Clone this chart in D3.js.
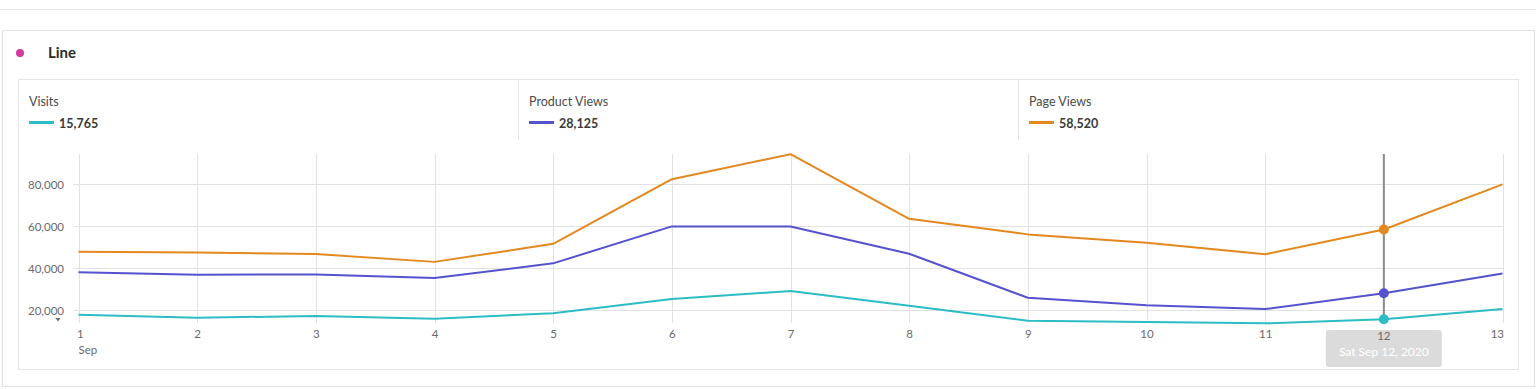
<!DOCTYPE html>
<html>
<head>
<meta charset="utf-8">
<script src="https://cdn.jsdelivr.net/npm/d3@7"></script>
<style>
  html, body { margin: 0; padding: 0; background: #fff; }
  svg { display: block; font-family: Lato, "Open Sans", sans-serif; }
</style>
</head>
<body>
<div id="chart"></div>
<script>
// data
const days = [1, 2, 3, 4, 5, 6, 7, 8, 9, 10, 11, 12, 13];
const visits = [17900, 16500, 17300, 16000, 18600, 25400, 29200, 22200, 15050, 14430, 13800, 15765, 20600];
const productViews = [38200, 37000, 37100, 35400, 42400, 60000, 60000, 47000, 26000, 22400, 20600, 28125, 37600];
const pageViews = [47900, 47600, 46800, 43100, 51700, 82500, 94400, 63600, 56200, 52200, 46700, 58520, 80000];
const seriesNames = ['Visits', 'Product Views', 'Page Views'];
const seriesColors = ['#2cbcc4', '#5552cf', '#e3881e'];
const yTicks = [20000, 40000, 60000, 80000];
const hoverDay = 12;
const hoverLabel = 'Sat Sep 12, 2020';

const W = 1536, H = 389;
const svg = d3.select('#chart').append('svg').attr('width', W).attr('height', H);

// page frame
svg.append('line').attr('x1', 0).attr('x2', W).attr('y1', 9.5).attr('y2', 9.5)
    .attr('stroke', '#e4e4e4');
svg.append('rect').attr('x', 2.5).attr('y', 30.5).attr('width', 1532).attr('height', 356)
    .attr('fill', 'none').attr('stroke', '#e1e1e1');
svg.append('circle').attr('cx', 20).attr('cy', 53).attr('r', 4).attr('fill', '#d5399b');
svg.append('text').attr('x', 48).attr('y', 58).text('Line')
    .attr('font-size', 15).attr('font-weight', 700).attr('fill', '#2c2c2c');

// inner card
svg.append('rect').attr('x', 18.5).attr('y', 79.5).attr('width', 1500).attr('height', 290)
    .attr('fill', 'none').attr('stroke', '#e4e4e4');

// legend headers
const series = [visits, productViews, pageViews];
const legend = svg.append('g');
seriesNames.forEach((name, i) => {
    const x0 = 18 + i * 500;
    if (i > 0) {
        legend.append('line').attr('x1', x0 + 0.5).attr('x2', x0 + 0.5).attr('y1', 80).attr('y2', 140)
            .attr('stroke', '#e4e4e4');
    }
    legend.append('text').attr('x', x0 + 11).attr('y', 106).text(name)
        .attr('font-size', 12.5).attr('fill', '#4b4b4b');
    legend.append('line').attr('x1', x0 + 11).attr('x2', x0 + 36).attr('y1', 122.5).attr('y2', 122.5)
        .attr('stroke', seriesColors[i]).attr('stroke-width', 3);
    const idx = days.indexOf(hoverDay);
    legend.append('text').attr('x', x0 + 41).attr('y', 127.5).text(d3.format(',')(series[i][idx]))
        .attr('font-size', 12.5).attr('font-weight', 700).attr('fill', '#3a3a3a');
});

// scales
const x = d3.scalePoint().domain(days).range([78.5, 1502.5]);
const y = d3.scaleLinear().domain([13500, 94500]).range([324, 154]);

const plot = svg.append('g');

// grid
plot.selectAll('.hgrid').data(yTicks).enter().append('line')
    .attr('class', 'hgrid')
    .attr('x1', 73).attr('x2', 1503)
    .attr('y1', d => Math.round(y(d)) + 0.5).attr('y2', d => Math.round(y(d)) + 0.5)
    .attr('stroke', '#e2e2e2');
plot.selectAll('.vgrid').data(days).enter().append('line')
    .attr('class', 'vgrid')
    .attr('x1', d => Math.round(x(d)) + 0.5).attr('x2', d => Math.round(x(d)) + 0.5)
    .attr('y1', 154).attr('y2', 323)
    .attr('stroke', '#e2e2e2');

// y axis labels
const yAxis = svg.append('g').attr('transform', 'translate(64,0)')
    .call(d3.axisLeft(y).tickValues(yTicks).tickSize(0).tickPadding(0).tickFormat(d3.format(',')));
yAxis.select('.domain').remove();
yAxis.selectAll('text').attr('font-size', 11.5).attr('fill', '#6a6a6a')
    .attr('font-family', 'Lato, "Open Sans", sans-serif');
svg.append('path').attr('d', 'M55.5,318 L60.5,318 L58,321.5 Z').attr('fill', '#6a6a6a');

// x axis labels
const xAxis = svg.append('g').attr('transform', 'translate(0,326)')
    .call(d3.axisBottom(x).tickSize(0).tickPadding(4));
xAxis.select('.domain').remove();
xAxis.selectAll('text').attr('font-size', 11.5).attr('fill', '#6a6a6a')
    .attr('font-family', 'Lato, "Open Sans", sans-serif')
    .attr('text-anchor', (d, i) => i === 0 ? 'start' : (i === days.length - 1 ? 'end' : 'middle'))
    .attr('dx', (d, i) => i === 0 ? -2 : (i === days.length - 1 ? 1 : 0));
svg.append('text').attr('x', x(days[0]) + 0).attr('y', 354).text('Sep')
    .attr('font-size', 11.5).attr('fill', '#6a6a6a');

// hover line
plot.append('line').attr('x1', x(hoverDay)).attr('x2', x(hoverDay)).attr('y1', 154).attr('y2', 320)
    .attr('stroke', '#8c8c8c').attr('stroke-width', 2);

// series lines
const line = d3.line().x((d, i) => x(days[i])).y(d => y(d));
series.forEach((vals, i) => {
    plot.append('path').datum(vals).attr('d', line)
        .attr('fill', 'none').attr('stroke', seriesColors[i]).attr('stroke-width', 2)
        .attr('stroke-linejoin', 'round');
});

// hover dots
const hi = days.indexOf(hoverDay);
series.forEach((vals, i) => {
    plot.append('circle').attr('cx', x(hoverDay)).attr('cy', y(vals[hi])).attr('r', 5)
        .attr('fill', seriesColors[i]);
});

// tooltip
const tip = svg.append('g');
tip.append('rect').attr('x', x(hoverDay) - 58).attr('y', 330).attr('width', 116).attr('height', 37)
    .attr('rx', 3).attr('fill', '#d9d9d9').attr('opacity', 0.95);
tip.append('text').attr('x', x(hoverDay)).attr('y', 340).text(hoverDay)
    .attr('text-anchor', 'middle').attr('font-size', 11.5).attr('fill', '#6a6a6a');
tip.append('text').attr('x', x(hoverDay)).attr('y', 356).text(hoverLabel)
    .attr('text-anchor', 'middle').attr('font-size', 12).attr('fill', '#ffffff');
</script>
</body>
</html>
